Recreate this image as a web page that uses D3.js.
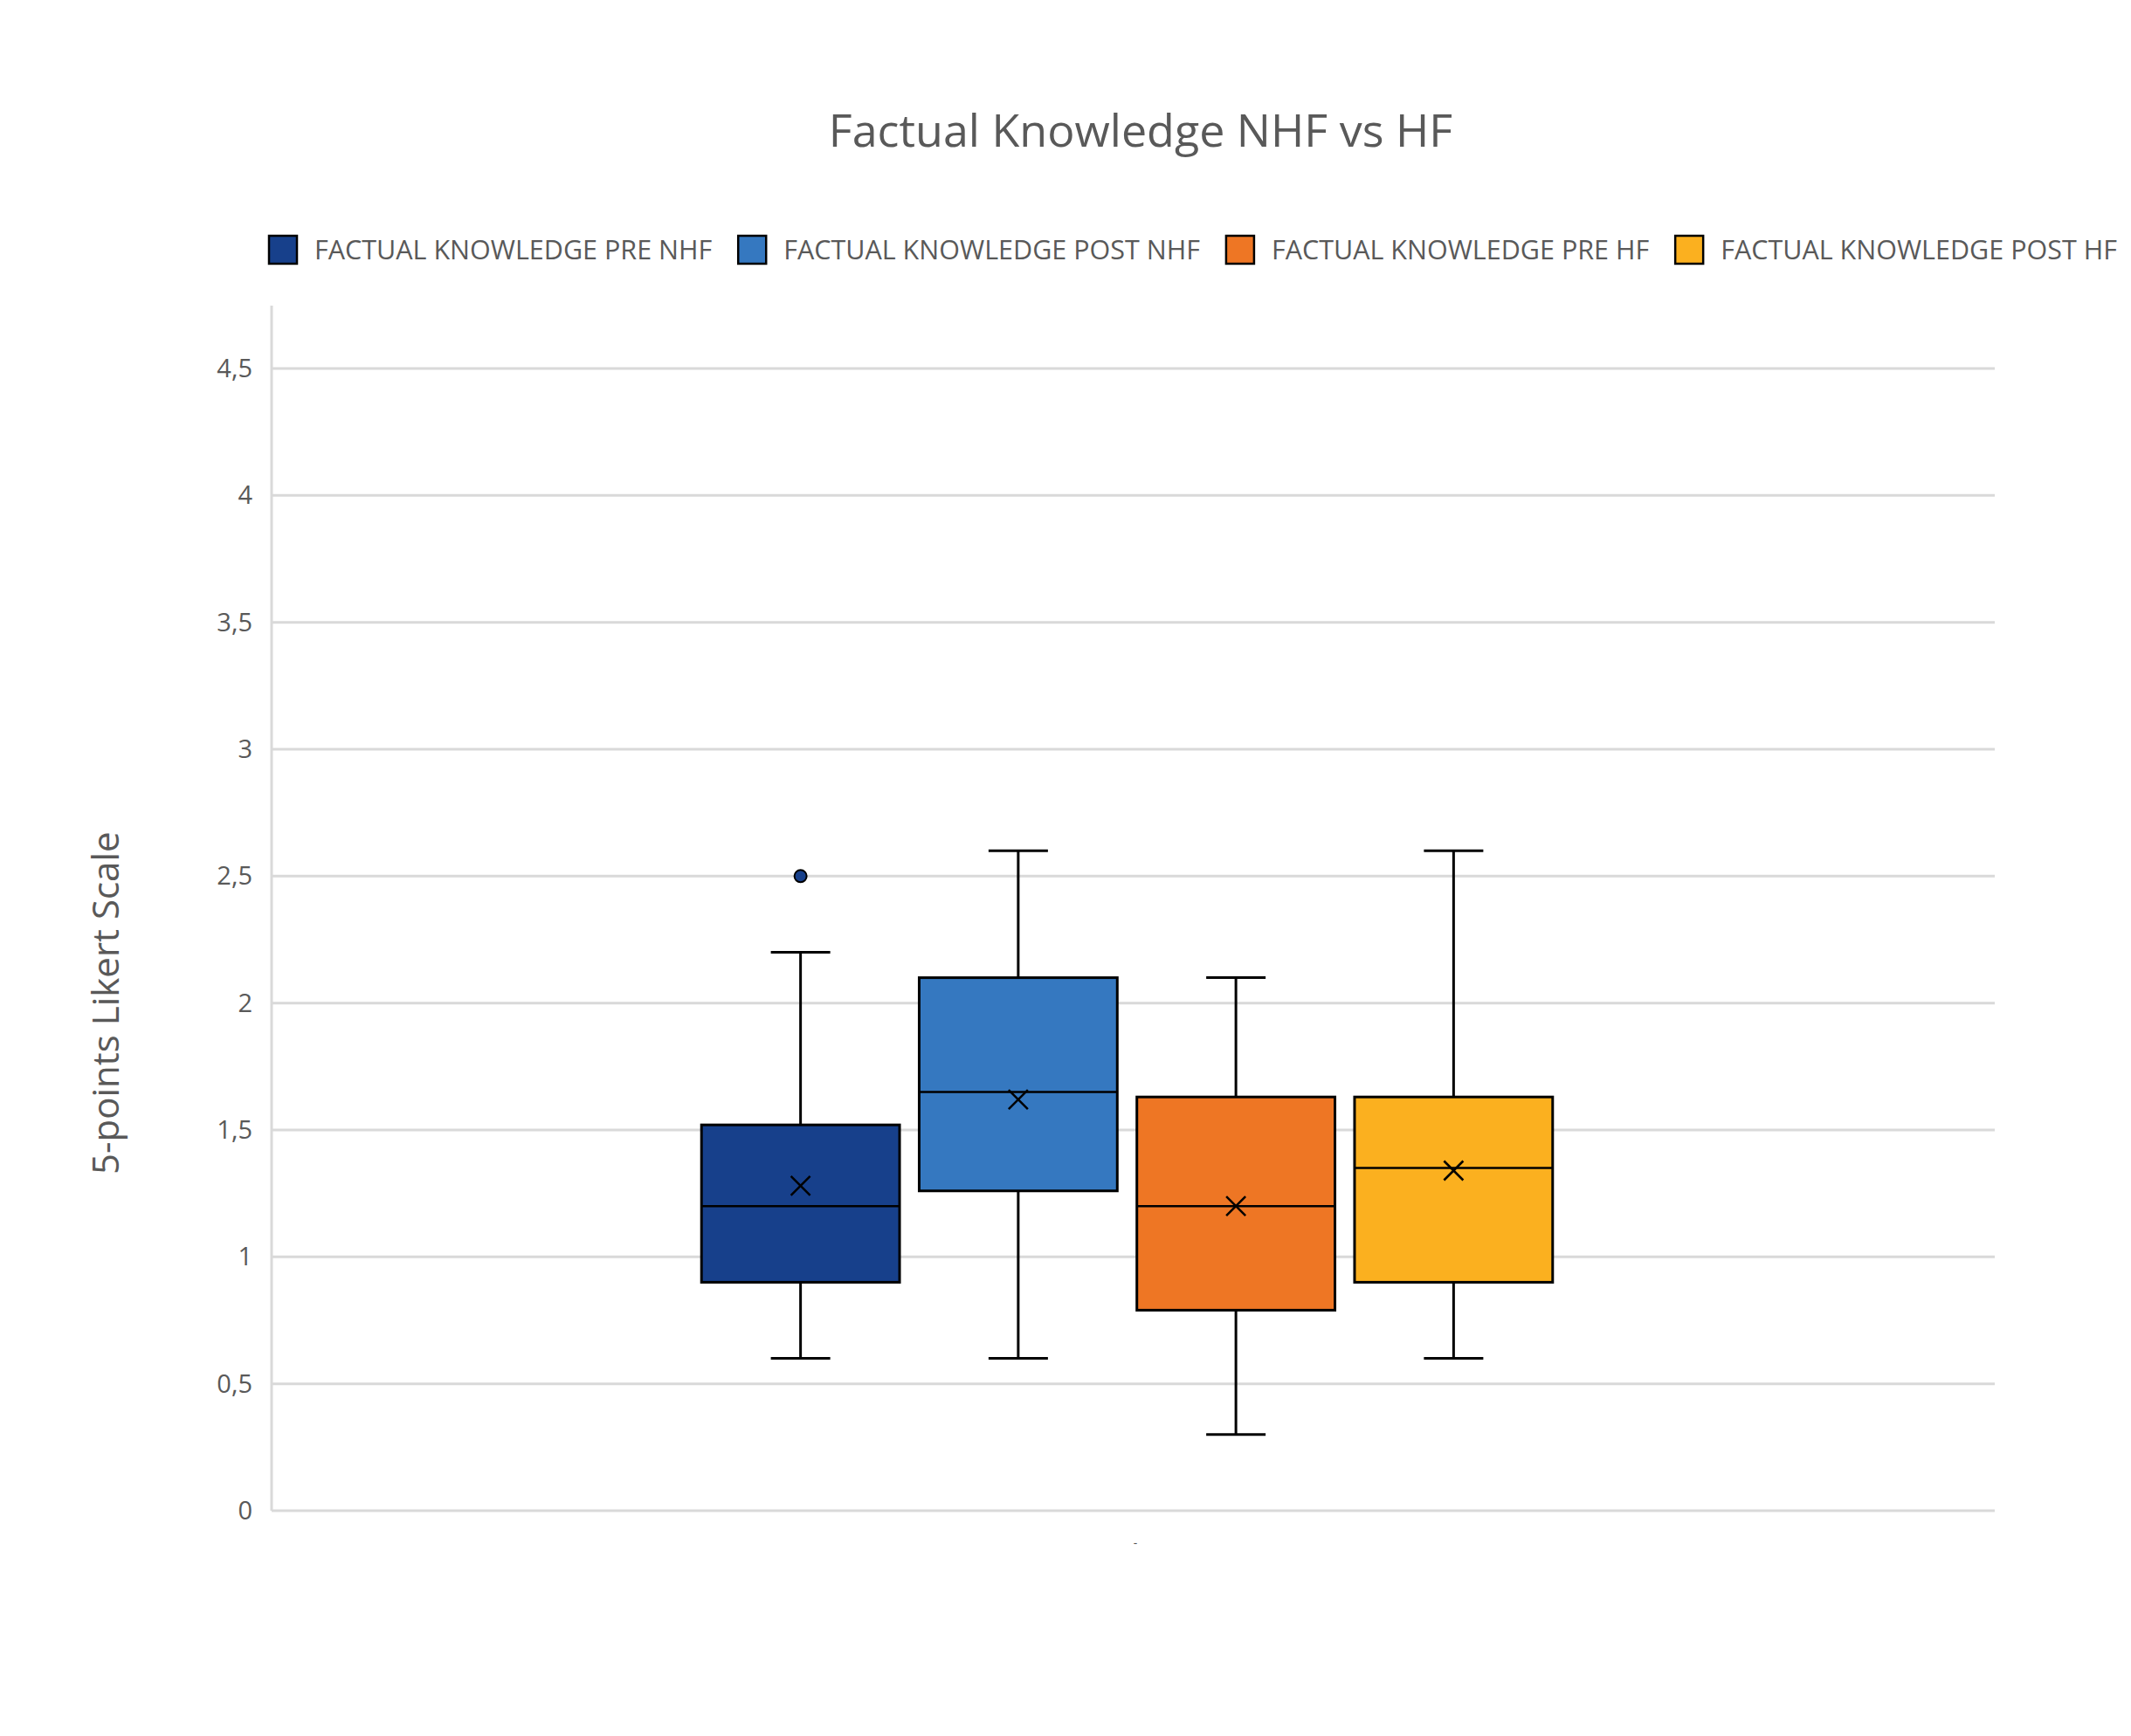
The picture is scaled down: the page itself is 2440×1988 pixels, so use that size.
<!DOCTYPE html>
<html><head><meta charset="utf-8">
<script src="https://cdn.jsdelivr.net/npm/d3@7"></script>
<style>body{margin:0;background:#fff}</style>
</head><body><div class="chart"></div>
<script>
// data
let series = ["FACTUAL KNOWLEDGE PRE NHF", "FACTUAL KNOWLEDGE POST NHF", "FACTUAL KNOWLEDGE PRE HF", "FACTUAL KNOWLEDGE POST HF"]
let colors = ["#17408b", "#3578c0", "#ee7624", "#fbb01f"]
let mins = [0.6, 0.6, 0.3, 0.6]
let q1s = [0.9, 1.26, 0.79, 0.9]
let medians = [1.2, 1.65, 1.2, 1.35]
let q3s = [1.52, 2.1, 1.63, 1.63]
let maxs = [2.2, 2.6, 2.1, 2.6]
let means = [1.28, 1.62, 1.2, 1.34]
let outliers = [[2.5], [], [], []]
let yTicks = [0, 0.5, 1, 1.5, 2, 2.5, 3, 3.5, 4, 4.5]

let W = 2440, H = 1988
let left = 311, right = 2284, bottom = 1730
let font = "'Open Sans', sans-serif", grey = "#595959"

let svg = d3.select(".chart").append("svg")
    .attr("width", W).attr("height", H)
    .style("font-family", font)

let y = d3.scaleLinear().domain([0, 4.5]).range([bottom, 422])
let x = d3.scaleBand().domain(series).range([792, 1789]).paddingInner(0.09).paddingOuter(0.045)

// gridlines
svg.append("g").selectAll("line").data(yTicks).join("line")
    .attr("x1", left).attr("x2", right)
    .attr("y1", d => y(d)).attr("y2", d => y(d))
    .attr("stroke", "#d9d9d9").attr("stroke-width", 3)

// left axis line
svg.append("line").attr("x1", left).attr("x2", left).attr("y1", 350).attr("y2", bottom)
    .attr("stroke", "#d9d9d9").attr("stroke-width", 3)

// tick labels
svg.append("g").selectAll("text").data(yTicks).join("text")
    .attr("x", left - 22).attr("y", d => y(d)).attr("dy", "0.35em")
    .attr("text-anchor", "end").attr("font-size", 29).attr("fill", grey)
    .text(d => String(d).replace(".", ","))

svg.append("text").attr("x", 1300).attr("y", 1772).attr("text-anchor", "middle")
    .attr("font-size", 14).attr("fill", grey).text("-")

// title
svg.append("text").attr("x", 1306).attr("y", 168).attr("text-anchor", "middle")
    .attr("font-size", 52).attr("fill", grey).text("Factual Knowledge NHF vs HF")

// y axis title
svg.append("text").attr("transform", "translate(136," + y(2) + ") rotate(-90)")
    .attr("text-anchor", "middle").attr("font-size", 42).attr("fill", grey)
    .text("5-points Likert Scale")

// legend
let lx = 308
series.forEach((s, i) => {
    let g = svg.append("g").attr("transform", "translate(" + lx + ",270)")
    g.append("rect").attr("width", 32).attr("height", 32).attr("fill", colors[i])
        .attr("stroke", "#000").attr("stroke-width", 2.5)
    let t = g.append("text").attr("x", 52).attr("y", 16).attr("dy", "0.35em")
        .attr("font-size", 30.5).attr("fill", grey).text(s)
    lx += 52 + t.node().getComputedTextLength() + 30
})

// boxes
let bw = x.bandwidth(), cap = 68
series.forEach((s, i) => {
    let cx = x(s) + bw / 2
    let g = svg.append("g").attr("stroke", "#000").attr("stroke-width", 3)
    g.append("line").attr("x1", cx).attr("x2", cx).attr("y1", y(maxs[i])).attr("y2", y(q3s[i]))
    g.append("line").attr("x1", cx).attr("x2", cx).attr("y1", y(q1s[i])).attr("y2", y(mins[i]))
    g.append("line").attr("x1", cx - cap / 2).attr("x2", cx + cap / 2).attr("y1", y(maxs[i])).attr("y2", y(maxs[i]))
    g.append("line").attr("x1", cx - cap / 2).attr("x2", cx + cap / 2).attr("y1", y(mins[i])).attr("y2", y(mins[i]))
    g.append("rect").attr("x", x(s)).attr("width", bw)
        .attr("y", y(q3s[i])).attr("height", y(q1s[i]) - y(q3s[i]))
        .attr("fill", colors[i])
    g.append("line").attr("x1", x(s)).attr("x2", x(s) + bw)
        .attr("y1", y(medians[i])).attr("y2", y(medians[i])).attr("stroke-width", 2.5)
    let m = y(means[i]), r = 11
    g.append("path").attr("d", `M${cx - r},${m - r}L${cx + r},${m + r}M${cx - r},${m + r}L${cx + r},${m - r}`)
        .attr("stroke-width", 2.5)
    outliers[i].forEach(o => {
        g.append("circle").attr("cx", cx).attr("cy", y(o)).attr("r", 7)
            .attr("fill", colors[i]).attr("stroke-width", 2)
    })
})
</script>
</body></html>
